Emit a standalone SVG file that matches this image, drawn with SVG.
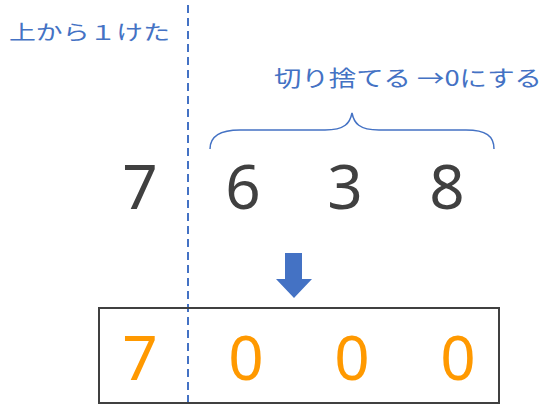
<svg xmlns="http://www.w3.org/2000/svg" width="545" height="405" viewBox="0 0 545 405">
<style>
.lbl{font-family:"Noto Sans CJK JP","Noto Sans",sans-serif;fill:#4472C4;}
.dig{font-family:"Noto Sans","DejaVu Sans",sans-serif;font-size:62px;text-anchor:middle;}
.top{fill:#404040;}
.res{fill:#FF9900;}
</style>
<rect width="545" height="405" fill="#fff"/>
<g id="connectors">
<line x1="188" y1="5" x2="188" y2="403" stroke="#4472C4" stroke-width="2" stroke-dasharray="8,5"/>
<path d="M210,149 C210,136 220,130 240,130 L325,130 C345,130 350,123 352,113 C354,123 359,130 379,130 L466,130 C486,130 494,136 494,149" fill="none" stroke="#4472C4" stroke-width="1.5"/>
<path d="M285,253 H302 V279 H312 L294,298 L276,279 H285 Z" fill="#4472C4"/>
</g>
<g id="label-top">
<text class="lbl" x="9" y="40" font-size="20" textLength="161" lengthAdjust="spacingAndGlyphs">上から１けた</text>
</g>
<g id="label-cut">
<text class="lbl" x="274" y="86" font-size="22" textLength="268" lengthAdjust="spacingAndGlyphs">切り捨てる →0にする</text>
</g>
<g id="number">
<text class="dig top" x="140" y="209">7</text>
<text class="dig top" x="243" y="209">6</text>
<text class="dig top" x="345" y="209">3</text>
<text class="dig top" x="447" y="209">8</text>
</g>
<g id="result">
<rect x="99" y="308" width="400" height="95" fill="none" stroke="#404040" stroke-width="2"/>
<text class="dig res" x="140" y="380">7</text>
<text class="dig res" x="246" y="380">0</text>
<text class="dig res" x="352" y="380">0</text>
<text class="dig res" x="458" y="380">0</text>
</g>
</svg>
